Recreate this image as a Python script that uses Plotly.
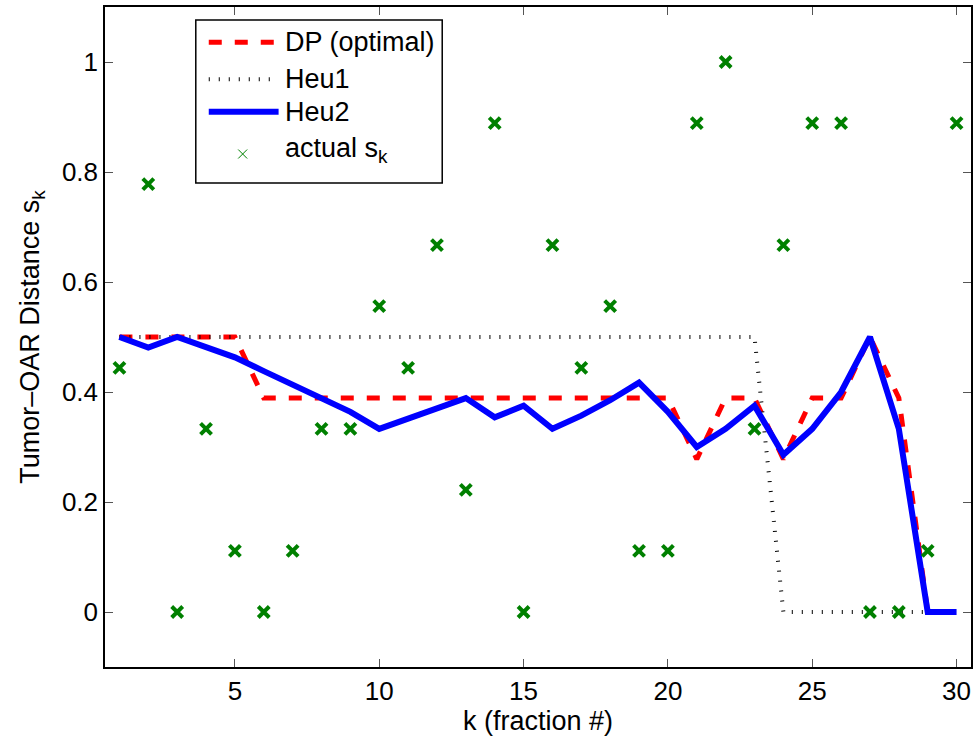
import plotly.graph_objects as go

# ---------------- data ----------------
k = list(range(1, 31))
dp_optimal = [0.5, 0.5, 0.5, 0.5, 0.5,
              0.389, 0.389, 0.389, 0.389, 0.389, 0.389, 0.389, 0.389, 0.389, 0.389,
              0.389, 0.389, 0.389, 0.389, 0.389,
              0.278, 0.389, 0.389, 0.278, 0.389, 0.389, 0.5, 0.389, 0.0, 0.0]
heu1 = [0.5, 0.5, 0.5, 0.5, 0.5, 0.5, 0.5, 0.5, 0.5, 0.5,
        0.5, 0.5, 0.5, 0.5, 0.5, 0.5, 0.5, 0.5, 0.5, 0.5,
        0.5, 0.5, 0.5, 0.0, 0.0, 0.0, 0.0, 0.0, 0.0, 0.0]
heu2 = [0.5, 0.481, 0.5, 0.481, 0.463, 0.438, 0.414, 0.389, 0.364, 0.333,
        0.352, 0.37, 0.389, 0.354, 0.375, 0.333, 0.357, 0.385, 0.417, 0.364,
        0.3, 0.333, 0.375, 0.286, 0.333, 0.4, 0.5, 0.333, 0.0, 0.0]
actual_s = [0.444, 0.778, 0.0, 0.333, 0.111, 0.0, 0.111, 0.333, 0.333, 0.556,
            0.444, 0.667, 0.222, 0.889, 0.0, 0.667, 0.444, 0.556, 0.111, 0.111,
            0.889, 1.0, 0.333, 0.667, 0.889, 0.889, 0.0, 0.0, 0.111, 0.889]
x_ticks = [5, 10, 15, 20, 25, 30]
y_ticks = [0, 0.2, 0.4, 0.6, 0.8, 1]
legend_labels = ["DP (optimal)", "Heu1", "Heu2", "actual s<sub>k</sub>"]

# ---------------- styles ----------------
RED = "#FF0000"
BLUE = "#0000FF"
GREEN = "#008000"
FONT = "Liberation Sans, Arial, Helvetica, sans-serif"
W, H = 975, 736
ML, MR, MT, MB = 105, 2, 7, 69
PW, PH = W - ML - MR, H - MT - MB


def px(xp):
    return (xp - ML) / PW


def py(yp):
    return (H - MB - yp) / PH


fig = go.Figure()
fig.add_trace(go.Scatter(x=k, y=dp_optimal, mode="lines", name=legend_labels[0],
                         line=dict(color=RED, width=5, dash="13px,13px")))
fig.add_trace(go.Scatter(x=k, y=heu1, mode="lines", name=legend_labels[1],
                         line=dict(color="#000000", width=4, dash="1px,9px")))
fig.add_trace(go.Scatter(x=k, y=heu2, mode="lines", name=legend_labels[2],
                         line=dict(color=BLUE, width=6)))
fig.add_trace(go.Scatter(x=k, y=actual_s, mode="markers", name=legend_labels[3],
                         marker=dict(symbol="x-thin", size=11, color=GREEN,
                                     line=dict(color=GREEN, width=4))))

# ---------------- manual legend (MATLAB style) ----------------
shapes = [dict(type="rect", xref="paper", yref="paper",
               x0=px(196), x1=px(443), y0=py(183), y1=py(20),
               line=dict(color="black", width=1.5), fillcolor="white", layer="above")]
rows = [42.3, 79.3, 111.7]
styles = [dict(color=RED, width=5, dash="13px,13px"),
          dict(color="#000000", width=4, dash="1px,9px"),
          dict(color=BLUE, width=6)]
for r, st in zip(rows, styles):
    shapes.append(dict(type="line", xref="paper", yref="paper",
                       x0=px(209), x1=px(279), y0=py(r), y1=py(r),
                       line=st, layer="above"))
mx, my, ms = 243, 154, 4.5
shapes.append(dict(type="line", xref="paper", yref="paper", x0=px(mx - ms), x1=px(mx + ms),
                   y0=py(my - ms), y1=py(my + ms), line=dict(color=GREEN, width=1), layer="above"))
shapes.append(dict(type="line", xref="paper", yref="paper", x0=px(mx - ms), x1=px(mx + ms),
                   y0=py(my + ms), y1=py(my - ms), line=dict(color=GREEN, width=1), layer="above"))

annotations = []
for lbl, r in zip(legend_labels, rows + [150]):
    annotations.append(dict(text=lbl, xref="paper", yref="paper", x=px(283), y=py(r),
                            xanchor="left", yanchor="middle", showarrow=False,
                            font=dict(family=FONT, size=27, color="black")))

fig.update_layout(
    width=W, height=H,
    margin=dict(l=ML, r=MR, t=MT, b=MB),
    paper_bgcolor="white", plot_bgcolor="white",
    showlegend=False,
    font=dict(family=FONT, size=26, color="black"),
    shapes=shapes, annotations=annotations,
)
fig.update_xaxes(range=[0.5, 30.5], tickvals=x_ticks, ticks="inside", ticklen=8,
                 tickcolor="#555", showline=True, linecolor="black", linewidth=1.5,
                 mirror="ticks", showgrid=False, zeroline=False,
                 title=dict(text="k (fraction #)", font=dict(size=27), standoff=2))
fig.update_yaxes(range=[-0.1, 1.1], tickvals=y_ticks, ticks="inside", ticklen=8,
                 tickcolor="#555", showline=True, linecolor="black", linewidth=1.5,
                 mirror="ticks", showgrid=False, zeroline=False,
                 title=dict(text="Tumor–OAR Distance s<sub>k</sub>", font=dict(size=27), standoff=14))

fig.write_html("out.html", config={"displayModeBar": False},
               post_script="document.body.style.margin='0px';document.body.style.overflow='hidden';")
